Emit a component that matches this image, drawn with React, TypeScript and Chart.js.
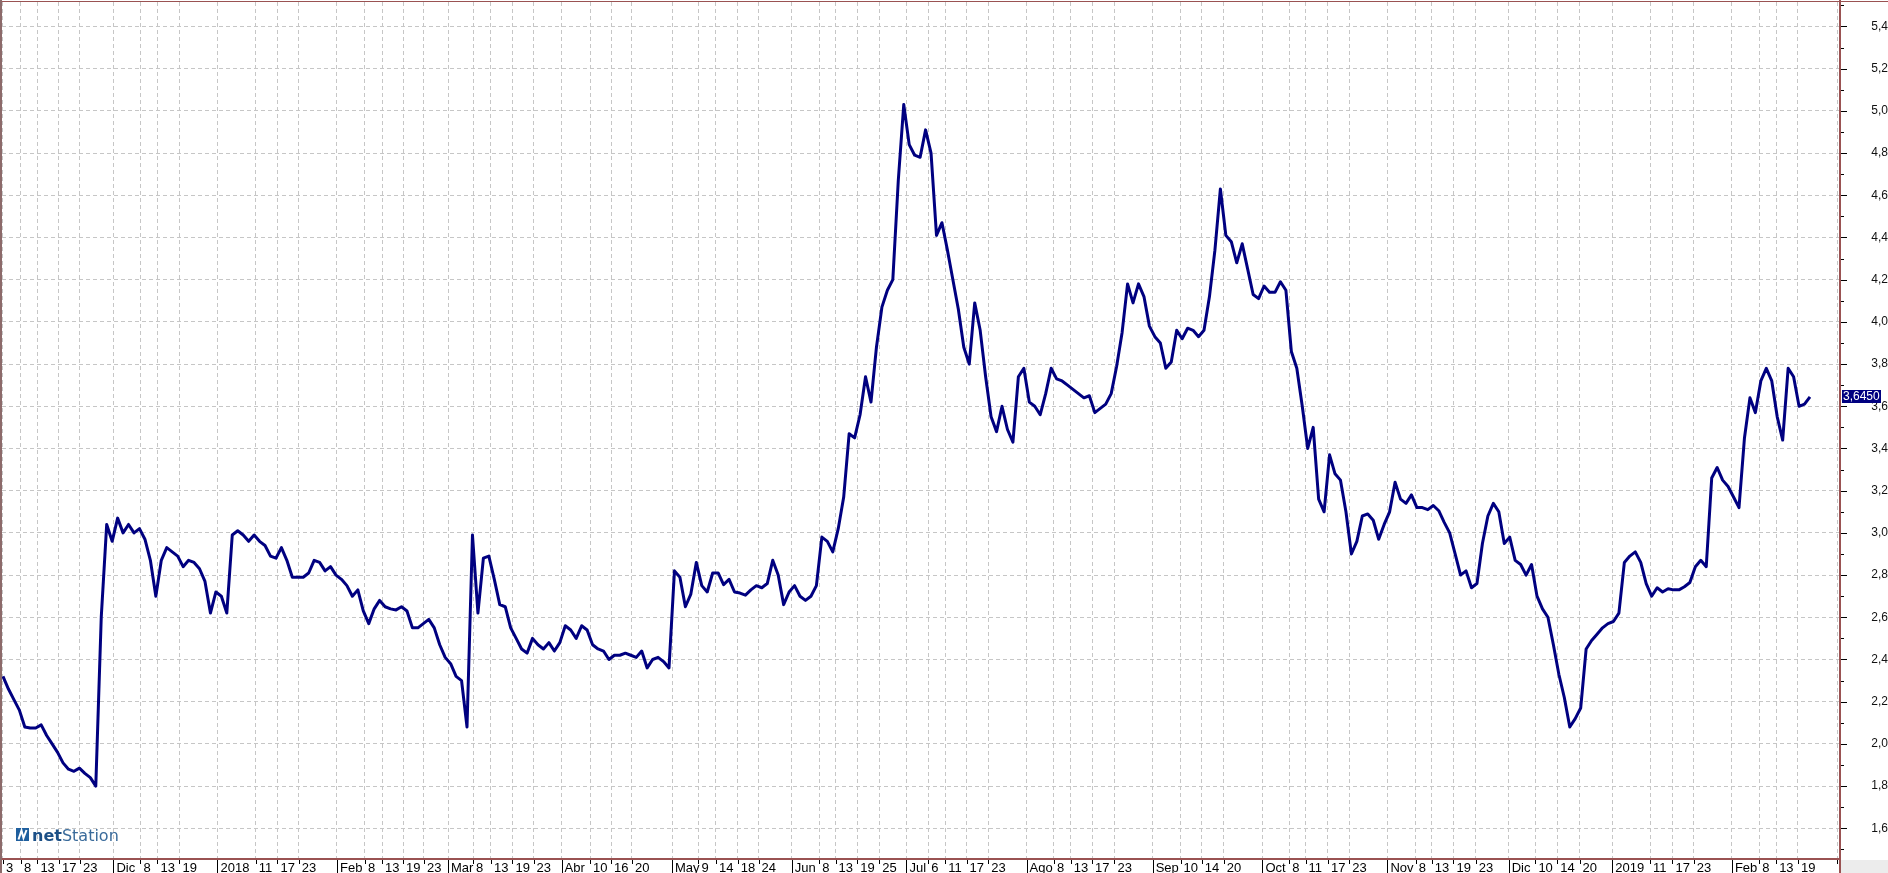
import React, { useEffect, useRef } from 'react';
import { Chart, registerables } from 'chart.js';

Chart.register(...registerables);

// Daily closing values, one array per month (trading days)
const nov17 = [2.32, 2.26, 2.21, 2.16, 2.08, 2.075, 2.075, 2.09, 2.04, 2.0, 1.96, 1.91, 1.88, 1.87, 1.885, 1.86, 1.84, 1.8, 2.6, 3.04];
const dic17 = [2.96, 3.07, 3.0, 3.04, 3.0, 3.02, 2.97, 2.87, 2.7, 2.87, 2.93, 2.91, 2.89, 2.84, 2.87, 2.86, 2.83, 2.77, 2.62];
const ene18 = [2.72, 2.7, 2.62, 2.99, 3.01, 2.99, 2.96, 2.99, 2.96, 2.94, 2.89, 2.88, 2.93, 2.87, 2.79, 2.79, 2.79, 2.81, 2.87, 2.86, 2.82, 2.84];
const feb18 = [2.8, 2.78, 2.75, 2.7, 2.73, 2.63, 2.57, 2.64, 2.68, 2.65, 2.64, 2.635, 2.65, 2.63, 2.55, 2.55, 2.57, 2.59, 2.55, 2.47, 2.41];
const mar18 = [2.38, 2.32, 2.3, 2.08, 2.99, 2.62, 2.88, 2.89, 2.78, 2.66, 2.65, 2.55, 2.5, 2.45, 2.43, 2.5, 2.47, 2.45, 2.48, 2.44];
const abr18 = [2.48, 2.56, 2.54, 2.5, 2.56, 2.54, 2.47, 2.45, 2.44, 2.4, 2.42, 2.42, 2.43, 2.42, 2.41, 2.44, 2.36, 2.4, 2.41, 2.39, 2.36];
const may18 = [2.82, 2.79, 2.65, 2.71, 2.86, 2.75, 2.72, 2.81, 2.81, 2.755, 2.78, 2.72, 2.715, 2.705, 2.73, 2.75, 2.74, 2.76, 2.87, 2.8, 2.66, 2.72];
const jun18 = [2.75, 2.7, 2.68, 2.7, 2.75, 2.98, 2.96, 2.91, 3.02, 3.17, 3.47, 3.45, 3.56, 3.74, 3.62, 3.88, 4.07, 4.15, 4.2, 4.67, 5.03];
const jul18 = [4.84, 4.79, 4.78, 4.91, 4.8, 4.41, 4.47, 4.34, 4.2, 4.06, 3.88, 3.8, 4.09, 3.96, 3.74, 3.55, 3.48, 3.6, 3.49, 3.43, 3.74, 3.78];
const ago18 = [3.62, 3.6, 3.56, 3.66, 3.78, 3.73, 3.72, 3.7, 3.68, 3.66, 3.64, 3.65, 3.57, 3.59, 3.61, 3.66, 3.79, 3.95, 4.18, 4.09, 4.18, 4.12, 3.98];
const sep18 = [3.93, 3.9, 3.78, 3.81, 3.96, 3.92, 3.97, 3.96, 3.93, 3.96, 4.12, 4.34, 4.63, 4.41, 4.38, 4.28, 4.37, 4.25, 4.13, 4.11];
const oct18 = [4.17, 4.14, 4.14, 4.19, 4.15, 3.86, 3.78, 3.6, 3.4, 3.5, 3.16, 3.1, 3.37, 3.28, 3.25, 3.1, 2.9, 2.96, 3.08, 3.09, 3.06, 2.97, 3.04];
const nov18 = [3.1, 3.24, 3.16, 3.14, 3.18, 3.12, 3.12, 3.11, 3.13, 3.105, 3.05, 3.0, 2.9, 2.8, 2.82, 2.74, 2.76, 2.95, 3.08, 3.14, 3.1, 2.95];
const dic18 = [2.98, 2.87, 2.85, 2.8, 2.85, 2.7, 2.64, 2.6, 2.47, 2.33, 2.22, 2.08, 2.12, 2.17, 2.45, 2.49, 2.52, 2.55, 2.57];
const ene19 = [2.58, 2.62, 2.86, 2.89, 2.91, 2.86, 2.76, 2.7, 2.74, 2.72, 2.735, 2.73, 2.73, 2.745, 2.765, 2.84, 2.87, 2.84, 3.26, 3.31, 3.25, 3.22];
const feb19 = [3.17, 3.12, 3.45, 3.64, 3.57, 3.72, 3.78, 3.72, 3.55, 3.44, 3.78, 3.74, 3.6, 3.61, 3.645];

const values = [
  ...nov17, ...dic17, ...ene18, ...feb18, ...mar18, ...abr18, ...may18, ...jun18,
  ...jul18, ...ago18, ...sep18, ...oct18, ...nov18, ...dic18, ...ene19, ...feb19,
];
const dayIndex = values.map((_, i) => i);

// X axis tick positions (trading-day index) and their labels
const xTickPos = [
  0, 3.3, 6.3, 10.26, 14.1,
  20.24, 25.19, 28.3, 32.33,
  39.29, 46.29, 50.28, 54.2,
  61.18, 66.31, 69.43, 73.28, 77.12,
  81.52, 86.1, 89.39, 93.33, 97.18,
  102.33, 107.53, 111.38, 115.22,
  122.55, 127.4, 130.6, 134.6, 138.4,
  144.5, 149.5, 152.5, 156.5, 160.5,
  165.5, 169.5, 172.6, 176.5, 180.5,
  187.5, 192.5, 195.6, 199.5, 203.6,
  210.6, 215.7, 219.6, 223.6,
  230.7, 235.6, 238.6, 242.7, 246.6,
  253.6, 258.8, 261.7, 265.7, 269.8,
  275.8, 280.7, 284.7, 288.8,
  294.8, 301.7, 305.8, 309.7,
  316.7, 321.7, 324.8, 328.8,
  336.0,
];
const xTickLabels = [
  '3', '8', '13', '17', '23',
  'Dic', '8', '13', '19',
  '2018', '11', '17', '23',
  'Feb', '8', '13', '19', '23',
  'Mar', '8', '13', '19', '23',
  'Abr', '10', '16', '20',
  'May', '9', '14', '18', '24',
  'Jun', '8', '13', '19', '25',
  'Jul', '6', '11', '17', '23',
  'Ago', '8', '13', '17', '23',
  'Sep', '10', '14', '20',
  'Oct', '8', '11', '17', '23',
  'Nov', '8', '13', '19', '23',
  'Dic', '10', '14', '20',
  '2019', '11', '17', '23',
  'Feb', '8', '13', '19',
  '',
];
const yTickValues = [1.6, 1.8, 2.0, 2.2, 2.4, 2.6, 2.8, 3.0, 3.2, 3.4, 3.6, 3.8, 4.0, 4.2, 4.4, 4.6, 4.8, 5.0, 5.2, 5.4];
const lastValueLabel = '3,6450';

const X_MIN = -0.18;
const X_MAX = 336.5;
const Y_MIN = 1.4545;
const Y_MAX = 5.516;

const BROWN = '#9a5252';

const isMonthLabel = (l: string) => l !== '' && (isNaN(Number(l)) || Number(l) > 31);

const decorPlugin = {
  id: 'decor',
  beforeDraw(chart: any) {
    const { ctx, width, height } = chart;
    ctx.save();
    ctx.fillStyle = '#ffffff';
    ctx.fillRect(0, 0, width, height);
    ctx.restore();
  },
  beforeDatasetsDraw(chart: any) {
    const { ctx } = chart;
    ctx.save();
    // netStation logo
    ctx.fillStyle = '#1f5f9e';
    ctx.beginPath();
    ctx.rect(16, 828, 13, 13);
    ctx.fill();
    ctx.strokeStyle = '#ffffff';
    ctx.lineWidth = 2;
    ctx.beginPath();
    ctx.moveTo(18.5, 839.5);
    ctx.lineTo(21.5, 830.5);
    ctx.lineTo(23.5, 838);
    ctx.lineTo(26.5, 830);
    ctx.stroke();
    ctx.textBaseline = 'alphabetic';
    ctx.textAlign = 'left';
    ctx.font = 'bold 16px "DejaVu Sans"';
    ctx.fillStyle = '#1b4f86';
    ctx.fillText('net', 32, 841);
    const w = ctx.measureText('net').width;
    ctx.font = '16px "DejaVu Sans"';
    ctx.fillStyle = '#3a6b9b';
    ctx.fillText('Station', 32 + w, 841);
    ctx.restore();
  },
  afterDraw(chart: any) {
    const { ctx, chartArea, width, height } = chart;
    const xs = chart.scales.x;
    const ys = chart.scales.y;
    ctx.save();
    // frame lines
    ctx.fillStyle = BROWN;
    ctx.fillRect(0, 1, width, 1);
    ctx.fillRect(0, chartArea.bottom - 1, chartArea.right, 2);
    ctx.fillRect(chartArea.right - 1, 0, 2, height);
    ctx.fillStyle = '#8c6a6a';
    ctx.fillRect(0, 0, 2, height);
    // bottom-right corner box
    ctx.fillStyle = '#ececec';
    ctx.fillRect(chartArea.right + 1, chartArea.bottom + 1, width - chartArea.right - 1, height - chartArea.bottom - 1);
    // x tick marks
    ctx.fillStyle = '#000000';
    xTickPos.forEach((p, i) => {
      const px = Math.round(xs.getPixelForValue(p));
      const month = isMonthLabel(xTickLabels[i]);
      ctx.fillRect(px, chartArea.bottom + 1, 1, month ? height - chartArea.bottom : 4);
    });
    // y tick marks (major + minor)
    yTickValues.forEach((v) => {
      const py = Math.round(ys.getPixelForValue(v));
      ctx.fillRect(chartArea.right + 1, py, 6, 1);
      const pm = Math.round(ys.getPixelForValue(v - 0.1));
      ctx.fillRect(chartArea.right + 1, pm, 3, 1);
    });
    const pTop = Math.round(ys.getPixelForValue(yTickValues[yTickValues.length - 1] + 0.1));
    ctx.fillRect(chartArea.right + 1, pTop, 3, 1);
    // last value label
    const lastY = ys.getPixelForValue(values[values.length - 1]);
    ctx.font = '12px "Liberation Sans", Arial, sans-serif';
    const tw = ctx.measureText(lastValueLabel).width;
    ctx.fillStyle = '#000080';
    ctx.fillRect(chartArea.right + 2, Math.round(lastY - 7), Math.ceil(tw) + 2, 13);
    ctx.fillStyle = '#ffffff';
    ctx.textBaseline = 'middle';
    ctx.textAlign = 'left';
    ctx.fillText(lastValueLabel, chartArea.right + 3, lastY);
    ctx.restore();
  },
};

export default function App() {
  const ref = useRef<HTMLCanvasElement>(null);

  useEffect(() => {
    document.body.style.margin = '0';
    const canvas = ref.current;
    if (!canvas) return;
    const chart = new Chart(canvas, {
      type: 'line',
      data: {
        labels: dayIndex,
        datasets: [
          {
            data: values,
            borderColor: '#000080',
            borderWidth: 3,
            pointRadius: 0,
            pointHoverRadius: 0,
            tension: 0,
            fill: false,
            borderJoinStyle: 'round',
          },
        ],
      },
      options: {
        animation: false,
        responsive: false,
        devicePixelRatio: 1,
        events: [],
        layout: { padding: { top: 2, left: 2, right: 0, bottom: 0 } },
        plugins: {
          legend: { display: false },
          tooltip: { enabled: false },
          title: { display: false },
        },
        scales: {
          x: {
            type: 'linear',
            min: X_MIN,
            max: X_MAX,
            afterBuildTicks: (s: any) => {
              s.ticks = xTickPos.map((v) => ({ value: v }));
            },
            afterFit: (s: any) => {
              s.height = 14;
            },
            grid: {
              color: '#c6c6c6',
              lineWidth: 1,
              drawTicks: true,
              tickLength: 3,
              tickColor: 'rgba(0,0,0,0)',
            },
            border: { display: false, dash: [4, 3] },
            ticks: {
              autoSkip: false,
              maxRotation: 0,
              minRotation: 0,
              align: 'start',
              labelOffset: 3,
              padding: 0,
              color: '#000000',
              font: { family: '"Liberation Sans", Arial, sans-serif', size: 13, lineHeight: 1 },
              callback: (_v: any, i: number) => xTickLabels[i],
            },
          },
          y: {
            type: 'linear',
            position: 'right',
            min: Y_MIN,
            max: Y_MAX,
            afterBuildTicks: (s: any) => {
              s.ticks = yTickValues.map((v) => ({ value: v }));
            },
            afterFit: (s: any) => {
              s.width = 48;
            },
            grid: {
              color: '#c6c6c6',
              lineWidth: 1,
              drawTicks: true,
              tickLength: 27,
              tickColor: 'rgba(0,0,0,0)',
            },
            border: { display: false, dash: [4, 3] },
            ticks: {
              crossAlign: 'far',
              padding: 0,
              color: '#111111',
              font: { family: '"Liberation Sans", Arial, sans-serif', size: 12, lineHeight: 0.3 },
              callback: (v: any) => Number(v).toFixed(1).replace('.', ','),
            },
          },
        },
      },
      plugins: [decorPlugin],
    } as any);
    return () => chart.destroy();
  }, []);

  return <canvas ref={ref} width={1888} height={873} style={{ display: 'block' }} />;
}
